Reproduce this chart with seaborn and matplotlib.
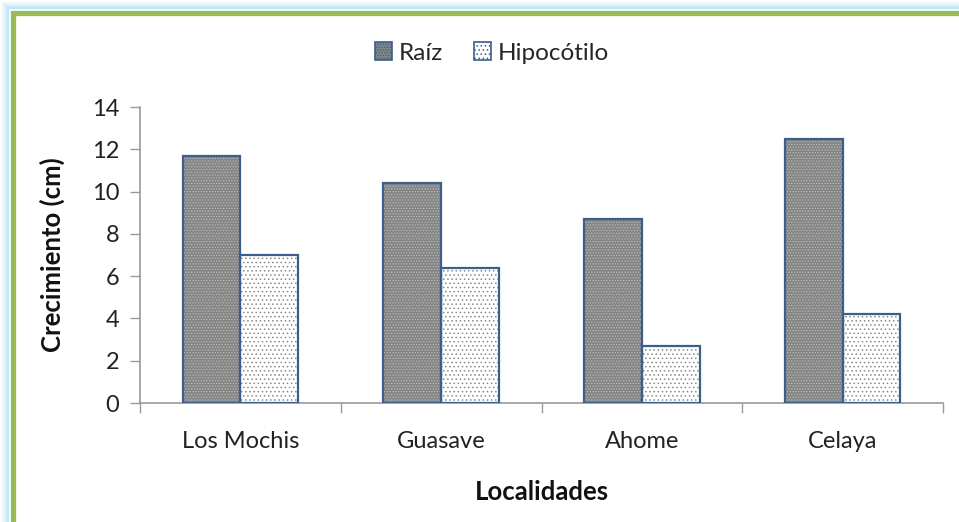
import matplotlib
matplotlib.use("Agg")
import matplotlib.pyplot as plt
import matplotlib.patches as mpatches
import seaborn as sns
import pandas as pd

# Growth per locality (cm)
localidades = ["Los Mochis", "Guasave", "Ahome", "Celaya"]
raiz = [11.7, 10.4, 8.7, 12.5]
hipocotilo = [7.0, 6.4, 2.7, 4.2]
series = ["Raíz", "Hipocótilo"]
y_ticks = [0, 2, 4, 6, 8, 10, 12, 14]

df = pd.DataFrame({
    "Localidad": localidades * 2,
    "Serie": [series[0]] * len(raiz) + [series[1]] * len(hipocotilo),
    "Valor": raiz + hipocotilo,
})

sns.set_theme(style="white")
plt.rcParams["font.family"] = ["Lato", "DejaVu Sans"]
plt.rcParams["hatch.linewidth"] = 0.6

W, H = 959, 522
fig = plt.figure(figsize=(W / 100, H / 100), dpi=100)
ax = fig.add_axes([140 / W, 1 - 403 / H, (943 - 140) / W, (403 - 107) / H])

edge_blue = "#3B5E8C"
fills = {"Raíz": "#848484", "Hipocótilo": "#ffffff"}
dots = {"Raíz": "#bcbcbc", "Hipocótilo": "#8a8a8a"}
hatches = {"Raíz": "......", "Hipocótilo": "...."}

sns.barplot(data=df, x="Localidad", y="Valor", hue="Serie", order=localidades,
            hue_order=series, palette=fills, width=0.575, gap=0,
            edgecolor=edge_blue, linewidth=0, legend=False, ax=ax, zorder=2)

# patches are ordered by hue, then by category
bars = [p for p in ax.patches if isinstance(p, mpatches.Rectangle)]
for i, bar in enumerate(bars):
    s = series[i // len(localidades)]
    x, y, w, h = bar.get_x(), bar.get_y(), bar.get_width(), bar.get_height()
    bar.set_facecolor(fills[s])
    ax.add_patch(mpatches.Rectangle((x, y), w, h, facecolor="none",
                                    edgecolor=dots[s], hatch=hatches[s],
                                    linewidth=0, zorder=2.5))
    ax.add_patch(mpatches.Rectangle((x, y), w, h, fill=False,
                                    edgecolor=edge_blue, linewidth=1.6,
                                    zorder=3))

ax.set_ylim(0, 14)
ax.set_xlim(-0.5, len(localidades) - 0.5)
ax.set_yticks(y_ticks)
ax.set_yticklabels([str(v) for v in y_ticks], fontsize=17, color="#222222")
ax.set_xticks(range(len(localidades)))
ax.set_xticklabels(localidades, fontsize=17, color="#222222")
ax.set_xticks([k - 0.5 for k in range(len(localidades) + 1)], minor=True)
ax.tick_params(axis="x", which="major", length=0, pad=20)
ax.tick_params(axis="x", which="minor", length=7, width=1, color="#999999",
               direction="out", bottom=True)
ax.tick_params(axis="y", which="major", length=7, width=1, color="#999999",
               direction="out", left=True, pad=8)

for side in ["top", "right"]:
    ax.spines[side].set_visible(False)
for side in ["left", "bottom"]:
    ax.spines[side].set_color("#999999")
    ax.spines[side].set_linewidth(1.2)

ax.set_xlabel("Localidades", fontsize=18.5, fontweight="bold", color="#111111")
ax.set_ylabel("Crecimiento (cm)", fontsize=18.5, fontweight="bold",
              color="#111111")
ax.yaxis.set_label_coords(-0.094, 0.5)
ax.xaxis.set_label_coords(0.5, -0.26)

# legend
handles = [mpatches.Patch(facecolor=fills[s], edgecolor=edge_blue,
                          hatch=hatches[s], linewidth=1.2, label=s)
           for s in series]
fig.legend(handles=handles, loc="center", bbox_to_anchor=(492 / W, 1 - 53 / H),
           ncol=2, frameon=False, fontsize=17.5, handlelength=0.7,
           handleheight=0.7, handletextpad=0.25, columnspacing=1.3)

# green frame with soft blue glow on the top and left sides
glow = ["#f4fbfe", "#e4f5fc", "#d0effa", "#bce8f8"]
for k, c in enumerate(glow):
    pos = 2 + 2 * k
    fig.patches.append(mpatches.Rectangle(
        (pos / W, -0.1), 2, 1.1 - pos / H,
        transform=fig.transFigure, facecolor="none", edgecolor=c,
        linewidth=1.6, zorder=0))
fig.patches.append(mpatches.Rectangle(
    (12.5 / W, -0.1), 2, 1.1 - 12.5 / H,
    transform=fig.transFigure, facecolor="none", edgecolor="#9BBB59",
    linewidth=3.8, zorder=1))

fig.savefig("out.png", dpi=100, facecolor="white")
